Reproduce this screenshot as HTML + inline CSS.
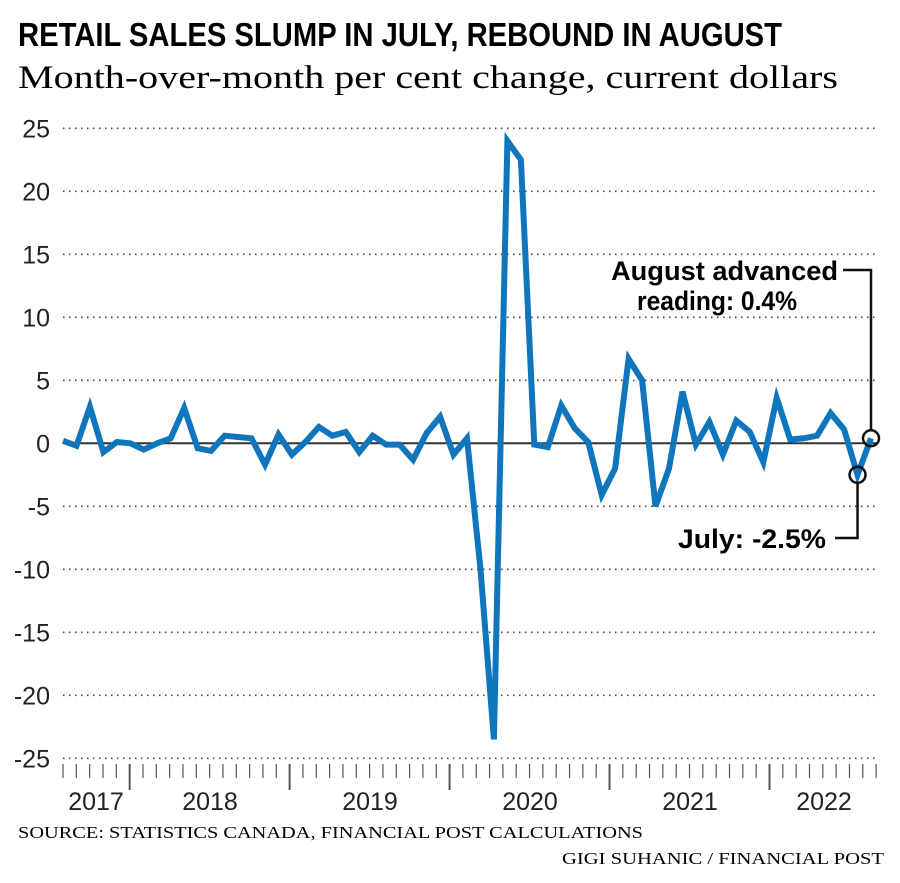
<!DOCTYPE html>
<html><head><meta charset="utf-8"><style>
body{margin:0;background:#fff;width:900px;height:878px;overflow:hidden}
svg text{font-family:"Liberation Sans Narrow","Liberation Sans",sans-serif}
</style></head><body>
<svg id="chart" width="900" height="878">
<text x="18" y="46" font-size="33" font-weight="bold" textLength="764" lengthAdjust="spacingAndGlyphs">RETAIL SALES SLUMP IN JULY, REBOUND IN AUGUST</text>
<text x="18" y="88" font-size="33" textLength="820" lengthAdjust="spacingAndGlyphs" style="font-family:'Liberation Serif',serif">Month-over-month per cent change, current dollars</text>
<g id="grid"></g><g id="yticks"></g><g id="xticks"></g>
<path id="line" fill="none" stroke="#0f75bc" stroke-width="6" stroke-linejoin="miter"/>
<g id="ann"></g>
<text x="18" y="838" font-size="17" textLength="625" lengthAdjust="spacingAndGlyphs" style="font-family:'Liberation Serif',serif">SOURCE: STATISTICS CANADA, FINANCIAL POST CALCULATIONS</text>
<text x="562" y="864" font-size="17" textLength="322" lengthAdjust="spacingAndGlyphs" style="font-family:'Liberation Serif',serif">GIGI SUHANIC / FINANCIAL POST</text>
</svg>
<script>
const yTicks=[25,20,15,10,5,0,-5,-10,-15,-20,-25];
const years=["2017","2018","2019","2020","2021","2022"];
const values=[0.2,-0.2,2.9,-0.7,0.1,0.0,-0.5,0.0,0.4,2.8,-0.4,-0.6,0.6,0.5,0.4,-1.7,0.7,-0.9,0.1,1.3,0.6,0.9,-0.7,0.6,-0.1,-0.1,-1.3,0.8,2.1,-0.9,0.4,-10,-23.5,24,22.5,-0.1,-0.3,3.0,1.2,0.1,-4.1,-2.0,6.7,5.0,-5.0,-2.0,4.1,-0.1,1.7,-0.9,1.8,0.9,-1.5,3.6,0.3,0.4,0.6,2.4,1.1,-2.5,0.4];
const NS="http://www.w3.org/2000/svg";
const y=v=>443.3-v*12.6;
const x=i=>63+i*(808/(values.length-1));
const tx=m=>63+m*13.33;
function mk(t,a,p){const e=document.createElementNS(NS,t);for(const k in a)e.setAttribute(k,a[k]);document.getElementById(p).appendChild(e);return e;}
yTicks.forEach(v=>{
 const l=mk('line',{x1:63,x2:877,y1:y(v),y2:y(v),stroke:v===0?'#333':'#444','stroke-width':v===0?2:1.6,'stroke-dasharray':v===0?'':'1.5 4.5'},'grid');
 
 
 const t=mk('text',{x:50,y:y(v)+9,'font-size':25,'text-anchor':'end',fill:'#222'},'yticks');
 t.textContent=v;
 
 
});
for(let m=0;m<=61;m++){
 const major=(m-5)%12===0&&m>=5;
 const tk=mk('line',{x1:tx(m),x2:tx(m),y1:764,y2:major?790:778,stroke:'#555','stroke-width':major?2:1.2},'xticks');
 
 
}
const yearX=[96,210,370,530,690,824];
years.forEach((yr,i)=>{
 const t=mk('text',{x:yearX[i],y:810,'font-size':25,'text-anchor':'middle',fill:'#222'},'xticks');
 t.textContent=yr;
 
 
});
document.getElementById('line').setAttribute('d',values.map((v,i)=>(i?'L':'M')+x(i).toFixed(1)+','+y(v).toFixed(1)).join(''));
const n=values.length;
const ax=x(n-1),ay=y(values[n-1]),jx=x(n-2),jy=y(values[n-2]);
const p1=mk('path',{d:`M${ax},${ay-8}V270H843`,fill:'none',stroke:'#111','stroke-width':2.5},'ann');


const p2=mk('path',{d:`M${jx},${jy+8}V538H835`,fill:'none',stroke:'#111','stroke-width':2.5},'ann');


const c1=mk('circle',{cx:ax,cy:ay,r:8,fill:'none',stroke:'#111','stroke-width':2.5},'ann');


const c2=mk('circle',{cx:jx,cy:jy,r:8,fill:'none',stroke:'#111','stroke-width':2.5},'ann');


const a1=mk('text',{x:611,y:280,'font-size':27,'font-weight':'bold',textLength:227,lengthAdjust:'spacingAndGlyphs'},'ann');
a1.textContent='August advanced';


const a2=mk('text',{x:637,y:310,'font-size':27,'font-weight':'bold',textLength:160,lengthAdjust:'spacingAndGlyphs'},'ann');
a2.textContent='reading: 0.4%';


const a3=mk('text',{x:678,y:548,'font-size':27,'font-weight':'bold',textLength:148,lengthAdjust:'spacingAndGlyphs'},'ann');
a3.textContent='July: -2.5%';


</script>
</body></html>
